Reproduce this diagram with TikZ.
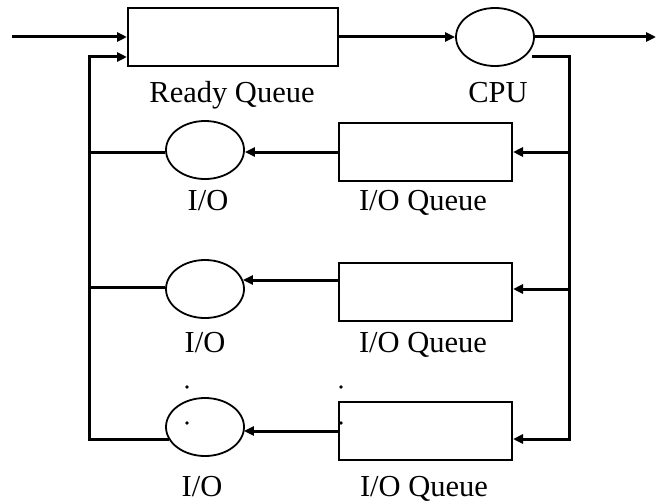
\documentclass[tikz,border=0pt]{standalone}
\usepackage{fontspec}
\setmainfont{Liberation Serif}
\usetikzlibrary{arrows.meta,shapes.geometric}
\tikzset{
  queuebox/.style={draw, line width=2pt, rectangle, inner sep=0pt, minimum width=173pt, minimum height=58pt},
  serverell/.style={draw, line width=1.8pt, ellipse, inner sep=0pt, minimum width=78pt, minimum height=58pt},
  conn/.style={line width=3pt},
  arr/.style={conn, -{Triangle[length=10pt,width=9pt]}},
  lbl/.style={anchor=base, inner sep=0pt, font=\fontsize{30.5}{36}\selectfont},
  dotmark/.style={fill=black, draw=none}
}
\begin{document}
\begin{tikzpicture}[x=1pt,y=-1pt]
\useasboundingbox (0,0) rectangle (658,503);
% nodes
\node[queuebox, minimum width=210pt] (rq) at (233,37) {};
\node[serverell] (cpu) at (495,37) {};
\node[queuebox] (q1) at (425.5,152) {};
\node[serverell] (io1) at (205,150) {};
\node[queuebox] (q2) at (425.5,292) {};
\node[serverell] (io2) at (205,289) {};
\node[queuebox] (q3) at (425.5,430.5) {};
\node[serverell] (io3) at (205,427) {};
% labels
\node[lbl] (lrq) at (232,102) {Ready Queue};
\node[lbl] (lcpu) at (498,102) {CPU};
\node[lbl] (lio1) at (208,210) {I/O};
\node[lbl] (lq1) at (423,210) {I/O Queue};
\node[lbl] (lio2) at (205,352) {I/O};
\node[lbl] (lq2) at (423,352) {I/O Queue};
\node[lbl] (lio3) at (202,496) {I/O};
\node[lbl] (lq3) at (424,496) {I/O Queue};
% helper coordinates
\coordinate (in) at (12,37);
\coordinate (out) at (656,37);
\coordinate (cpuout) at (532,57);
\coordinate (rtop) at (569,57);
\coordinate (rbot) at (569,439);
\coordinate (r1) at (569,152);
\coordinate (r2) at (569,289);
\coordinate (ltop) at (89,57);
\coordinate (lbot) at (89,439);
\coordinate (l1) at (89,152);
\coordinate (l2) at (89,287);
\coordinate (y2a) at (0,280);
\coordinate (y3a) at (0,431);
\coordinate (io3w) at (169,439);
% connectors
\draw[arr] (in) -- (rq.west);
\draw[arr] (rq.east) -- (cpu.west);
\draw[arr] (cpu.east) -- (out);
\draw[arr, line join=miter] (cpuout) -- (rtop) -- (rbot) -- (rbot -| q3.east);
\draw[arr] (r1) -- (r1 -| q1.east);
\draw[arr] (r2) -- (r2 -| q2.east);
\draw[arr] (q1.west) -- (q1.west -| io1.east);
\draw[arr] (q2.west |- y2a) -- ([xshift=-2pt]io2.east |- y2a);
\draw[arr] (q3.west |- y3a) -- ([xshift=-1pt]io3.east |- y3a);
\draw[arr, line join=miter] (io3w) -- (lbot) -- (ltop) -- (ltop -| rq.west);
\draw[conn] (io1.west |- l1) -- (l1);
\draw[conn] (io2.west |- l2) -- (l2);
% dots
\fill[dotmark] (187,387) circle (1.8pt);
\fill[dotmark] (187,423) circle (1.8pt);
\fill[dotmark] (341,387) circle (1.8pt);
\fill[dotmark] (341,423) circle (1.8pt);
\end{tikzpicture}
\end{document}
